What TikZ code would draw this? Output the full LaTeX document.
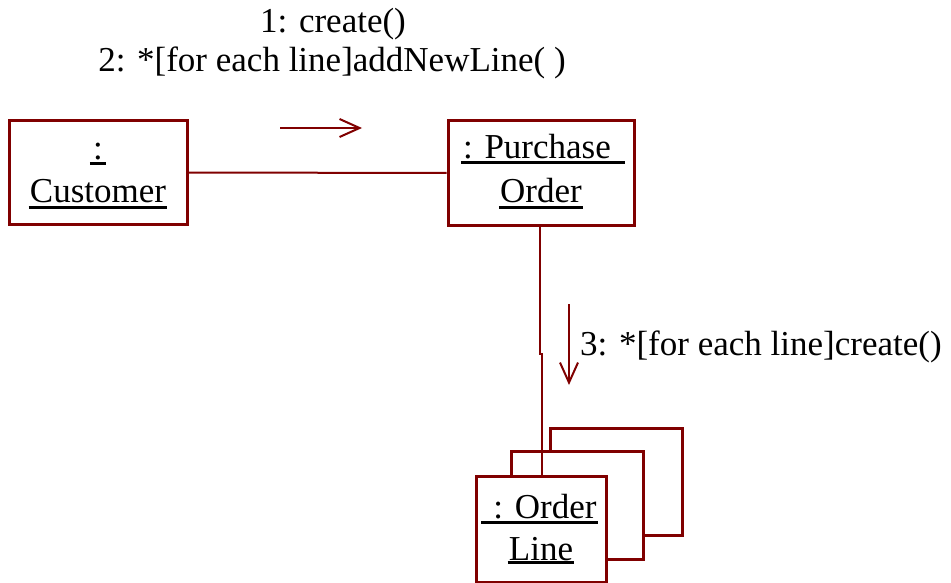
\documentclass[tikz,border=0pt]{standalone}
\usepackage{fontspec}
\setmainfont{Liberation Serif}
\usetikzlibrary{arrows.meta}
\definecolor{umlred}{HTML}{800000}
\begin{document}
\begin{tikzpicture}[x=1pt,y=-1pt,
  obj/.style={draw=umlred, line width=3pt, fill=white, inner sep=0pt},
  conn/.style={draw=umlred, line width=2pt},
  msg/.style={draw=umlred, line width=2pt, -{Straight Barb[length=20pt,width=18pt,line width=2pt]}},
  txt/.style={font=\fontsize{35}{40}\selectfont, inner sep=0pt, text=black, anchor=base},
  uline/.style={draw=black, line width=3pt}]
\useasboundingbox (0,0) rectangle (951,583);
% boxes
\node[obj, minimum width=178pt, minimum height=103pt] (cust) at (98,172.5) {};
\node[obj, minimum width=186pt, minimum height=104pt] (po) at (541,173) {};
\node[obj, minimum width=132pt, minimum height=107pt] (ol3) at (616,481.5) {};
\node[obj, minimum width=132pt, minimum height=108pt] (ol2) at (577,505) {};
\node[obj, minimum width=130pt, minimum height=106pt] (ol) at (541,529) {};
% texts
\node[txt] (l1) at (333,33) {1: create()};
\node[txt] (l2) at (332,72) {2: *[for each line]addNewLine( )};
\node[txt, anchor=base west] (l3) at (580,355) {3: *[for each line]create()};
\node[txt] (c1) at (98,160) {:};
\node[txt] (c2) at (98,203) {Customer};
\node[txt] (p1) at (537,159) {: Purchase};
\node[txt] (p2) at (541,203) {Order};
\node[txt] (o1) at (545,518) {: Order};
\node[txt] (o2) at (541,560) {Line};
% underlines
\draw[uline] ([xshift=-3pt,yshift=-4pt]c1.base west) -- ([xshift=3pt,yshift=-4pt]c1.base east);
\draw[uline] ([xshift=-1pt,yshift=-4pt]c2.base west) -- ([xshift=1pt,yshift=-4pt]c2.base east);
\draw[uline] ([xshift=-2pt,yshift=-4pt]p1.base west) -- ([xshift=14pt,yshift=-4pt]p1.base east);
\draw[uline] ([xshift=-1pt,yshift=-4pt]p2.base west) -- ([xshift=1pt,yshift=-4pt]p2.base east);
\draw[uline] ([xshift=-12pt,yshift=-4pt]o1.base west) -- ([xshift=1pt,yshift=-4pt]o1.base east);
\draw[uline] ([xshift=-1pt,yshift=-2pt]o2.base west) -- ([xshift=1pt,yshift=-2pt]o2.base east);
% connectors
\draw[conn] (cust.east) -- (po.west);
\draw[conn] ([xshift=-1pt]po.south) -- ++(0,127) coordinate (jog) -- ++(2,0) -- ([xshift=1pt]ol.north);
% message arrows
\coordinate (m1s) at (280,128);
\coordinate (m1e) at (362,128);
\draw[msg] (m1s) -- (m1e);
\coordinate (m3s) at (569,304);
\coordinate (m3e) at (569,385);
\draw[msg] (m3s) -- (m3e);
\end{tikzpicture}
\end{document}
